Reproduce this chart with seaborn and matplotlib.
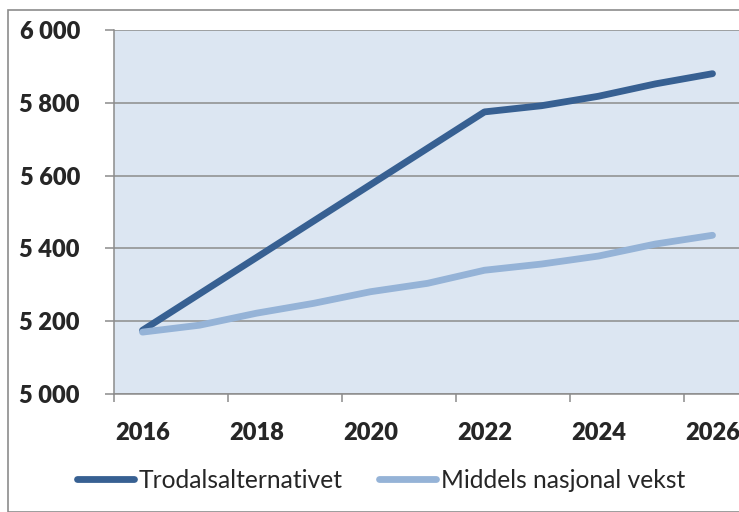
import matplotlib
matplotlib.use("Agg")
import matplotlib.pyplot as plt
import matplotlib.ticker as mticker
from matplotlib.patches import Rectangle
import numpy as np
import pandas as pd
import seaborn as sns

years = list(range(2016, 2027))
trodal = [5175, 5275, 5375, 5475, 5575, 5675, 5775, 5792, 5818, 5852, 5880]
middels = [5170, 5189, 5222, 5249, 5281, 5304, 5340, 5357, 5379, 5412, 5436]
series_names = ["Trodalsalternativet", "Middels nasjonal vekst"]
colors = ["#376092", "#95B3D7"]

df = pd.DataFrame({
    "idx": list(range(len(years))) * 2,
    "value": trodal + middels,
    "serie": [series_names[0]] * len(years) + [series_names[1]] * len(years),
})

sns.set_style("white")
plt.rcParams["font.family"] = ["Lato", "DejaVu Sans"]

W, H = 739, 512
fig = plt.figure(figsize=(W / 100, H / 100), dpi=100)
fig.patches.append(Rectangle((8 / W, 0), 1, 1 - 10 / H, transform=fig.transFigure,
                             fill=False, edgecolor="#8c8c8c", linewidth=1.2))

ax = fig.add_axes([114 / W, 118 / H, 627 / W, 364 / H])
ax.set_facecolor("#DCE6F2")

sns.lineplot(data=df, x="idx", y="value", hue="serie", palette=colors,
             linewidth=4.9, ax=ax, legend=False, solid_capstyle="round")

ax.set_xlim(-0.5, 10.5)
ax.set_ylim(5000, 6000)
ax.set_yticks(np.arange(5000, 6001, 200))
ax.yaxis.set_major_formatter(mticker.FuncFormatter(lambda v, p: f"{int(v):,}".replace(",", " ")))
ax.grid(axis="y", color="#8c8c8c", linewidth=1.1)
ax.set_axisbelow(True)

# category axis: tick marks between years, labels on every second year
ax.set_xticks(np.arange(-0.5, 10.6, 2))
ax.set_xticklabels([])
ax.set_xticks(range(0, len(years), 2), minor=True)
ax.set_xticklabels([str(y) for y in years[::2]], minor=True)
ax.tick_params(axis="x", which="major", bottom=True, length=6, width=1.1,
               color="#8c8c8c", direction="out")
ax.tick_params(axis="x", which="minor", bottom=True, length=0, pad=20, labelsize=17)
ax.tick_params(axis="y", left=True, length=6.5, width=1.1, color="#8c8c8c",
               direction="out", pad=18, labelsize=17)
for lab in ax.get_xticklabels(minor=True) + ax.get_yticklabels():
    lab.set_fontweight("heavy")

for s in ["top", "right"]:
    ax.spines[s].set_visible(False)
for s in ["left", "bottom"]:
    ax.spines[s].set_color("#8c8c8c")
    ax.spines[s].set_linewidth(1.1)
ax.set_xlabel("")
ax.set_ylabel("")

handles = [plt.Line2D([], [], color=c, linewidth=4.9, solid_capstyle="round") for c in colors]
fig.legend(handles, series_names, loc="center", bbox_to_anchor=(381 / W, 1 - 480 / H),
           ncol=2, frameon=False, fontsize=17.7, handlelength=2.32, handletextpad=0.2,
           columnspacing=1.45)

fig.savefig("out.png", dpi=100)
